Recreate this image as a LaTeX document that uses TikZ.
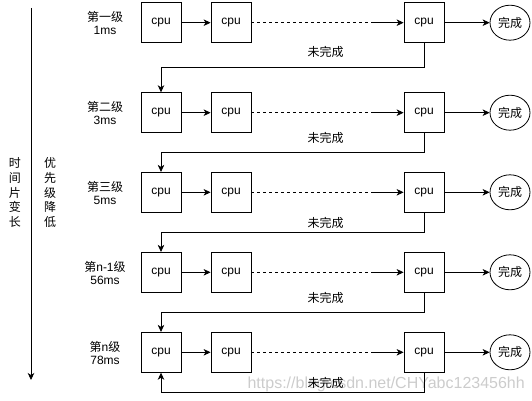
\documentclass[tikz,border=0pt]{standalone}
\usepackage{fontspec}
\setmainfont{Liberation Sans}
\newfontfamily\cjk{Noto Sans CJK SC}
\usetikzlibrary{arrows.meta,shapes.geometric}
\tikzset{
  cpubox/.style={draw, line width=0.8pt, minimum width=40pt, minimum height=40pt, inner sep=0pt, font=\fontsize{12}{14}\selectfont},
  donenode/.style={draw, ellipse, line width=0.8pt, minimum width=40pt, minimum height=35pt, inner sep=0pt, font=\fontsize{12}{14}\selectfont\cjk},
  lvl/.style={align=center, font=\fontsize{12}{13}\selectfont, inner sep=0pt},
  vtext/.style={align=center, font=\fontsize{12}{14.75}\selectfont\cjk, inner sep=0pt},
  fail/.style={font=\fontsize{12}{14}\selectfont\cjk, inner sep=0pt},
  conn/.style={line width=0.8pt},
  arr/.style={line width=0.8pt, -{Stealth[length=7pt,width=6.5pt,inset=2pt]}},
  dashedconn/.style={line width=0.8pt, dash pattern=on 3pt off 3pt},
  wmark/.style={font=\fontsize{16}{18}\selectfont, text=black!20, inner sep=0pt, anchor=east}
}
\begin{document}
\begin{tikzpicture}[x=1pt,y=-1pt]
\useasboundingbox (0,0) rectangle (532,401);
% watermark
\node[wmark] (wm) at (525,384) {https://blog.csdn.net/CHYabc123456hh};
% time arrow
\coordinate (ta) at (31,8);
\coordinate (tb) at (31,380);
\draw[arr] (ta) -- (tb);
\node[vtext] (v1) at (15,192.5) {时\\间\\片\\变\\长};
\node[vtext] (v2) at (50,192.5) {优\\先\\级\\降\\低};
% rows
\foreach \r/\y/\la/\lb in {1/22.7/{\cjk 第一级}/1ms, 2/112.7/{\cjk 第二级}/3ms, 3/192.3/{\cjk 第三级}/5ms, 4/272.3/{{\cjk 第}n-1{\cjk 级}}/56ms, 5/352.3/{{\cjk 第}n{\cjk 级}}/78ms}{
  \node[lvl] (l\r) at (105,\y+0.5) {\la\\\lb};
  \node[cpubox] (b\r1) at (161,\y) {cpu};
  \node[cpubox] (b\r2) at (231,\y) {cpu};
  \node[cpubox] (b\r3) at (424,\y) {cpu};
  \node[donenode] (d\r) at (510,\y) {完成};
  \coordinate (m\r) at (373,\y);
  \draw[arr] (b\r1) -- (b\r2);
  \draw[dashedconn] (b\r2.east) -- (m\r);
  \draw[arr] (m\r) -- (b\r3.west);
  \draw[arr] (b\r3) -- (d\r);
}
% return lines
\coordinate (t1) at (424,67.3);
\coordinate (t2) at (424,152.3);
\coordinate (t3) at (424,232.7);
\coordinate (t4) at (424,312.3);
\coordinate (t5) at (424,392.3);
\draw[arr] (b13.south) -- (t1) -| (b21.north);
\draw[arr] (b23.south) -- (t2) -| (b31.north);
\draw[arr] (b33.south) -- (t3) -| (b41.north);
\draw[arr] (b43.south) -- (t4) -| (b51.north);
\draw[arr] (b53.south) -- (t5) -| (b51.south);
\node[fail] (f1) at (325.7,52) {未完成};
\node[fail] (f2) at (325.7,138.3) {未完成};
\node[fail] (f3) at (325.7,223.3) {未完成};
\node[fail] (f4) at (325.7,298.3) {未完成};
\node[fail] (f5) at (325.7,383.3) {未完成};
\end{tikzpicture}
\end{document}
